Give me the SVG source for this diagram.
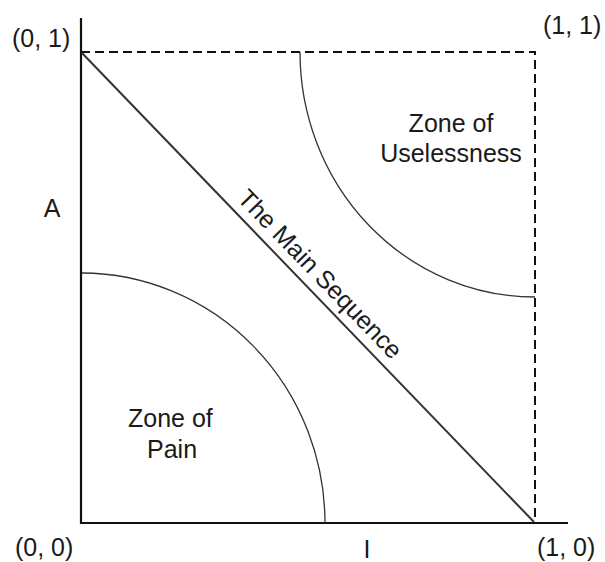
<svg xmlns="http://www.w3.org/2000/svg" width="605" height="562" viewBox="0 0 605 562">
<style>
text{font-family:"Liberation Sans",Arial,sans-serif;font-size:25px;fill:#1a1a1a}
.ax{stroke:#111;stroke-width:2.2;fill:none}
.dash{stroke:#111;stroke-width:2;fill:none;stroke-dasharray:9 5}
.arc{stroke:#333;stroke-width:1.3;fill:none}
.diag{stroke:#333;stroke-width:2;fill:none}
</style>
<rect width="605" height="562" fill="#fff"/>
<g id="connectors">
<path class="ax" d="M81,18 V523 H568"/>
<path class="dash" d="M81,52 H535 V523"/>
<path class="diag" d="M82,53 L534,522"/>
<path class="arc" d="M82,273 A244,250 0 0 1 325,523"/>
<path class="arc" d="M300,52 A235,245 0 0 0 535,297"/>
</g>
<g id="labels">
<text x="12" y="47">(0, 1)</text>
<text x="543" y="34">(1, 1)</text>
<text x="15" y="556">(0, 0)</text>
<text x="537" y="556">(1, 0)</text>
<text x="367" y="558" text-anchor="middle">I</text>
<text x="52" y="217" text-anchor="middle">A</text>
</g>
<g id="zone-useless">
<text x="451" y="132" text-anchor="middle">Zone of</text>
<text x="451" y="162" text-anchor="middle">Uselessness</text>
</g>
<g id="zone-pain">
<text x="128" y="427">Zone of</text>
<text x="147" y="458">Pain</text>
</g>
<g id="main-sequence">
<text transform="translate(314,280) rotate(46)" text-anchor="middle">The Main Sequence</text>
</g>
</svg>
